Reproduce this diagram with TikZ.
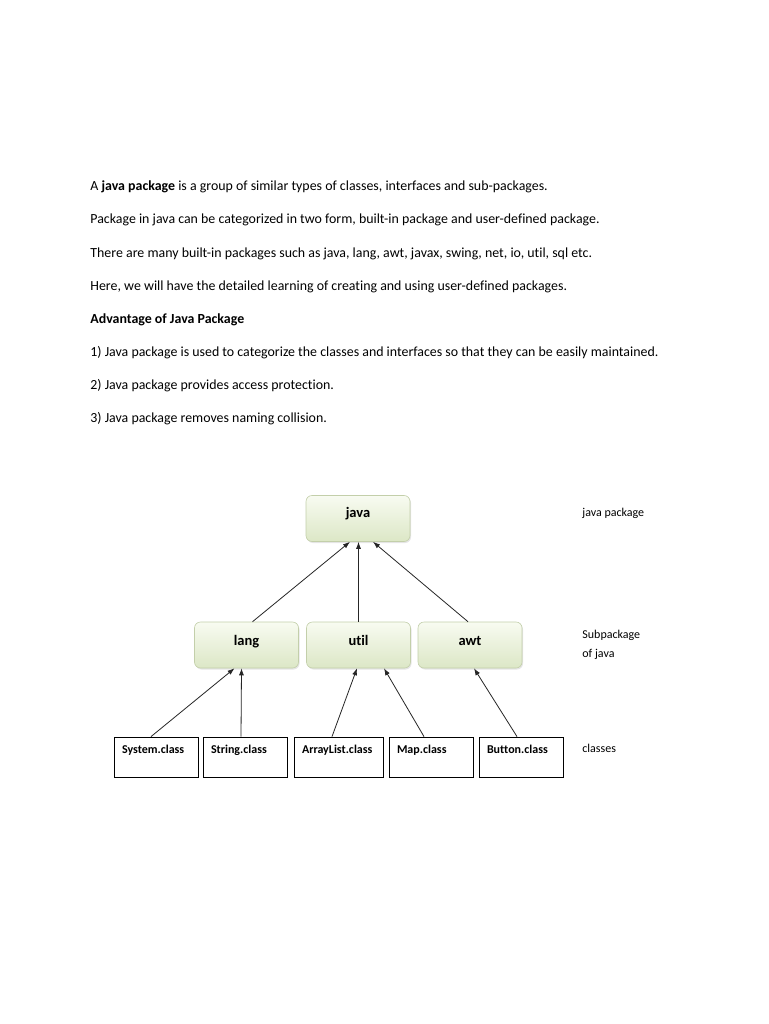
\documentclass[tikz,border=0pt]{standalone}
\usepackage{fontspec}
\setmainfont{Carlito}[Ligatures=NoCommon]
\usetikzlibrary{arrows.meta,shadows}

\definecolor{pkgtop}{HTML}{F8FBF1}
\definecolor{pkgbot}{HTML}{DCE7C6}
\definecolor{pkgline}{HTML}{C3CFAA}

\begin{document}
\begin{tikzpicture}[
  x=1pt,y=-1pt,line width=0.8pt,
  every node/.style={inner sep=0pt},
  para/.style={anchor=base west,font=\fontsize{13.9}{17}\selectfont},
  side label/.style={anchor=base west,align=left,
    font=\fontsize{12}{19}\selectfont},
  pkgbox/.style={draw=pkgline,line width=0.6pt,rounded corners=6pt,
    top color=pkgtop,bottom color=pkgbot,
    minimum width=104pt,minimum height=46pt,
    font=\bfseries\fontsize{14.5}{17}\selectfont,
    text height=10pt,text depth=10pt,
    drop shadow={shadow xshift=1pt,shadow yshift=-1.5pt,opacity=0.2}},
  classbox/.style={draw,line width=0.8pt,text width=#1,inner xsep=8pt,
    minimum height=40pt,align=left,
    font=\bfseries\fontsize{12}{14}\selectfont,
    text height=8pt,text depth=16pt},
  classbox/.default=68pt,
  dep/.style={-{Latex[length=7pt,width=5pt]},black!85}
]
  \fill[white] (0,0) rectangle (768,1024);
  \useasboundingbox (0,0) rectangle (768,1024);

  \node[para] (t1) at (90,191)
    {A \textbf{java package} is a group of similar types of classes, interfaces and sub-packages.};
  \node[para] (t2) at (90,224)
    {Package in java can be categorized in two form, built-in package and user-defined package.};
  \node[para] (t3) at (90,257)
    {There are many built-in packages such as java, lang, awt, javax, swing, net, io, util, sql etc.};
  \node[para] (t4) at (90,290)
    {Here, we will have the detailed learning of creating and using user-defined packages.};
  \node[para,font=\bfseries\fontsize{13.9}{17}\selectfont] (adv) at (90,323)
    {Advantage of Java Package};
  \node[para] (p1) at (90,356)
    {1) Java package is used to categorize the classes and interfaces so that they can be easily maintained.};
  \node[para] (p2) at (90,389)
    {2) Java package provides access protection.};
  \node[para] (p3) at (90,422)
    {3) Java package removes naming collision.};

  % package tree
  \node[pkgbox,text height=10pt,text depth=13pt] (java) at (358,518.5) {java};
  \node[pkgbox] (lang) at (246.5,645) {lang};
  \node[pkgbox] (util) at (358.5,645) {util};
  \node[pkgbox] (awt)  at (470,645) {awt};

  \node[classbox] (sysc) at (156,757) {System.class};
  \node[classbox] (strc) at (245,757) {String.class};
  \node[classbox=73pt] (alc) at (338.5,757) {ArrayList.class};
  \node[classbox] (mapc) at (431,757) {Map.class};
  \node[classbox] (btnc) at (521,757) {Button.class};

  \draw[dep] ([xshift=6pt]lang.north) -- ([xshift=-8pt]java.south);
  \draw[dep] (util.north) -- (util.north |- java.south);
  \draw[dep] ([xshift=-2pt]awt.north) -- ([xshift=15pt]java.south);

  \draw[dep] ([xshift=-5pt]sysc.north) -- ([xshift=-12pt]lang.south);
  \draw[dep] ([xshift=-4pt]strc.north) -- ([xshift=-5pt]lang.south);
  \draw[dep] ([xshift=-6.5pt]alc.north) -- ([xshift=-1.5pt]util.south);
  \draw[dep] ([xshift=-7pt]mapc.north) -- ([xshift=25.5pt]util.south);
  \draw[dep] ([xshift=-4pt]btnc.north) -- ([xshift=4pt]awt.south);

  \node[side label] (lvl1) at (582,516) {java package};
  \node[side label] (lvl2) at (582,657) {Subpackage\\of java};
  \node[side label] (lvl3) at (582,752) {classes};
\end{tikzpicture}
\end{document}
